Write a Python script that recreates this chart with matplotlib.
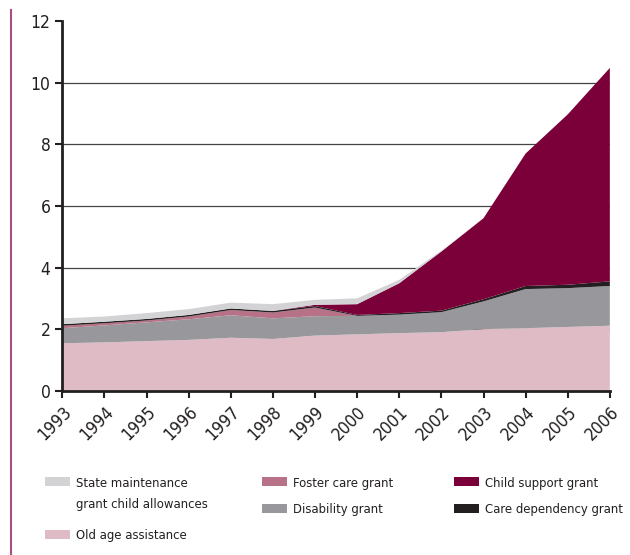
import numpy as np
import matplotlib
matplotlib.use("Agg")
from matplotlib import pyplot as plt
from matplotlib.patches import Rectangle
from matplotlib.lines import Line2D

plt.rcParams['font.family'] = ['DejaVu Sans']
plt.rcParams['font.stretch'] = 'condensed'

# values in millions
years = [1993, 1994, 1995, 1996, 1997, 1998, 1999, 2000, 2001, 2002, 2003, 2004, 2005, 2006]
old_age = [1.54, 1.57, 1.61, 1.65, 1.72, 1.68, 1.79, 1.83, 1.87, 1.90, 2.00, 2.03, 2.07, 2.11]
disability = [0.49, 0.55, 0.61, 0.67, 0.73, 0.67, 0.63, 0.60, 0.60, 0.65, 0.90, 1.27, 1.26, 1.29]
foster_care = [0.08, 0.07, 0.06, 0.09, 0.17, 0.19, 0.28, 0.0, 0.0, 0.0, 0.0, 0.0, 0.0, 0.0]
care_dependency = [0.05, 0.05, 0.05, 0.05, 0.05, 0.05, 0.05, 0.03, 0.05, 0.05, 0.07, 0.10, 0.11, 0.15]
child_support = [0.0, 0.0, 0.0, 0.0, 0.0, 0.0, 0.04, 0.35, 0.97, 1.92, 2.63, 4.30, 5.53, 6.93]
state_maint = [0.19, 0.17, 0.19, 0.19, 0.19, 0.22, 0.16, 0.19, 0.11, 0.03, 0.0, 0.0, 0.0, 0.0]

yticks = [0, 2, 4, 6, 8, 10, 12]

c_old = '#dfbcc5'
c_dis = '#98989c'
c_fos = '#b77287'
c_care = '#231f20'
c_child = '#7b0039'
c_state = '#d3d3d5'

fig = plt.figure(figsize=(6.3, 5.55), dpi=100)
ax = fig.add_axes([0.099, 0.296, 0.869, 0.666])

ax.stackplot(years, old_age, disability, foster_care, care_dependency,
             child_support, state_maint,
             colors=[c_old, c_dis, c_fos, c_care, c_child, c_state],
             linewidth=0, zorder=2)

ax.set_xlim(1993, 2006)
ax.set_ylim(0, 12)
ax.set_yticks(yticks)
ax.set_xticks(years)
ax.set_xticklabels([str(y) for y in years], rotation=45, ha='right', va='top',
                   rotation_mode='anchor')
ax.tick_params(axis='both', labelsize=12.5, colors='#231f20', length=5, width=1.5)
ax.tick_params(axis='x', pad=4)

for g in yticks[1:-1]:
    ax.axhline(g, color='#444444', lw=0.9, zorder=1)

for s in ['top', 'right']:
    ax.spines[s].set_visible(False)
for s in ['left', 'bottom']:
    ax.spines[s].set_linewidth(2)
    ax.spines[s].set_color('#231f20')
    ax.spines[s].set_zorder(5)

# magenta rule on the left edge
fig.add_artist(Line2D([0.017, 0.017], [0.0, 0.982], transform=fig.transFigure,
                      color='#a8507f', lw=1.5))

# legend drawn by hand (pixel positions: patch left, patch top, baseline)
W, H = 630.0, 555.0
entries = [
    (45, 477, 487, c_state, 'State maintenance'),
    (45, 530, 539, c_old, 'Old age assistance'),
    (262, 477, 487, c_fos, 'Foster care grant'),
    (262, 504, 513, c_dis, 'Disability grant'),
    (454, 477, 487, c_child, 'Child support grant'),
    (454, 504, 513, c_care, 'Care dependency grant'),
]
for px, top, base, col, label in entries:
    fig.add_artist(Rectangle((px / W, 1 - (top + 9) / H), 25 / W, 9 / H,
                             transform=fig.transFigure, color=col, lw=0))
    fig.text((px + 31) / W, 1 - base / H, label, fontsize=9.4,
             color='#231f20', va='baseline', ha='left')
fig.text(76 / W, 1 - 508 / H, 'grant child allowances', fontsize=9.4,
         color='#231f20', va='baseline', ha='left')

fig.savefig('out.png', dpi=100)
